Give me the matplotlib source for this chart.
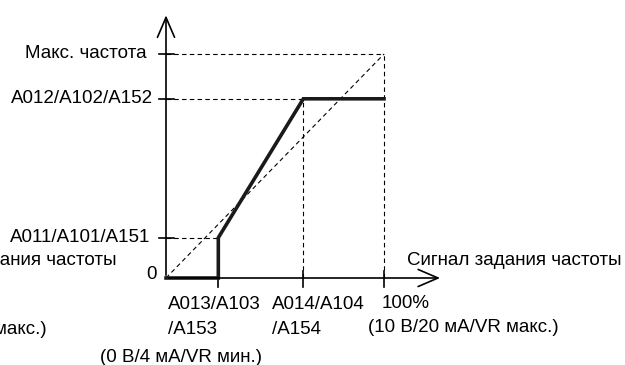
import matplotlib
matplotlib.use('Agg')
import matplotlib.pyplot as plt

plt.rcParams['font.family'] = ['Liberation Sans', 'DejaVu Sans']

# signal (% of max) and output frequency (% of max) for the characteristic
sig_pts = [0, 24, 24, 63, 100]
freq_pts = [0, 0, 18, 80, 80]

# tick positions and their labels
x_ticks = [24, 63, 100]
x_lab1 = ['A013/A103', 'A014/A104', '100%']
x_lab2 = ['/A153', '/A154', '(10 В/20 мА/VR макс.)']
y_ticks = [18, 80, 100]
y_labels = ['A011/A101/A151', 'A012/A102/A152', 'Макс. частота']

x_name = 'Сигнал задания частоты'
x_sub = '(0 В/4 мА/VR мин.)'

fig = plt.figure(figsize=(6.25, 3.65), dpi=100)
ax = fig.add_axes([0, 0, 1, 1])
# map data so that origin sits at (166, 278) px, 100% at 218/224 px away
sx, sy = 2.18, 2.24
ax.set_xlim(-166 / sx, (625 - 166) / sx)
ax.set_ylim((278 - 365) / sy, 278 / sy)
ax.axis('off')

fs = 13.5
dash = dict(color='black', lw=0.8, ls=(0, (4, 3)))

# dashed guides
ax.plot([0, 100], [100, 100], **dash)
ax.plot([100, 100], [0, 100], **dash)
ax.plot([0, 100], [0, 100], **dash)
ax.plot([0, 63], [80, 80], **dash)
ax.plot([63, 63], [0, 80], **dash)
ax.plot([0, 24], [18, 18], **dash)

# axes with arrows
arr = dict(arrowstyle='->,head_length=0.65,head_width=0.28',
           lw=1.2, color='black', mutation_scale=22)
ax.annotate('', xy=(127, 0), xytext=(0, 0), arrowprops=arr)
ax.annotate('', xy=(0, 118.5), xytext=(0, 0), arrowprops=arr)

# ticks
for t in x_ticks:
    ax.plot([t, t], [-4.0, 3.1], color='black', lw=1.2)
for t in y_ticks:
    ax.plot([-3.2, 3.7], [t, t], color='black', lw=1.2)

# characteristic
ax.plot(sig_pts, freq_pts, color='#1a1a1a', lw=2.6, solid_joinstyle='miter')

# labels
for t, lab, off in zip(y_ticks, y_labels, [-7.3, -6.0, -8.7]):
    ax.text(off, t, lab, ha='right', va='center', fontsize=fs)
ax.text(-4.1, 1.6, '0', ha='right', va='center', fontsize=fs)

ax.text(0.9, -12.0, x_lab1[0], ha='left', va='center', fontsize=fs)
ax.text(0.9, -23.2, x_lab2[0], ha='left', va='center', fontsize=fs)
ax.text(48.6, -12.0, x_lab1[1], ha='left', va='center', fontsize=fs)
ax.text(48.6, -23.2, x_lab2[1], ha='left', va='center', fontsize=fs)
ax.text(99, -11.2, x_lab1[2], ha='left', va='center', fontsize=fs)
ax.text(92.7, -21.9, x_lab2[2], ha='left', va='center', fontsize=fs)
ax.text(-30.3, -35.3, x_sub, ha='left', va='center', fontsize=fs)
ax.text(110.5, 8.0, x_name, ha='left', va='center', fontsize=fs)

# clipped copies on the left edge
ax.text(-22.5, 8.0, x_name, ha='right', va='center', fontsize=fs)
ax.text(-54.6, -23.2, x_lab2[2], ha='right', va='center', fontsize=fs)

fig.savefig('out.png', dpi=100)
